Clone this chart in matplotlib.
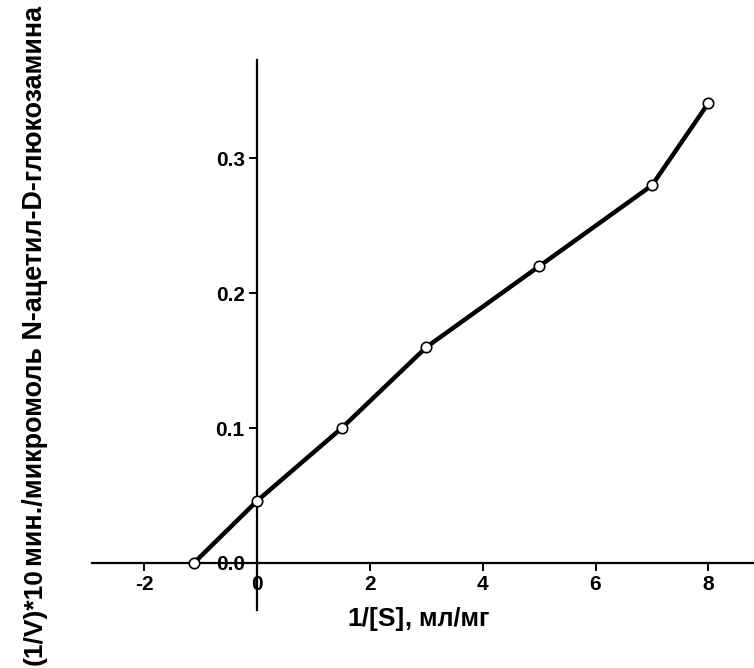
import matplotlib
matplotlib.use('Agg')
import matplotlib.pyplot as plt

# Lineweaver-Burk data
inv_s = [-1.12, 0.0, 1.5, 3.0, 5.0, 7.0, 8.0]
inv_v = [0.0, 0.046, 0.100, 0.160, 0.220, 0.280, 0.341]

x_ticks = [-2, 0, 2, 4, 6, 8]
y_ticks = [0.0, 0.1, 0.2, 0.3]
y_tick_labels = ['0.0', '0.1', '0.2', '0.3']

plt.rcParams['font.family'] = ['Liberation Sans', 'DejaVu Sans']
plt.rcParams['font.weight'] = 'bold'

W, H = 754, 668
fig = plt.figure(figsize=(W / 100, H / 100), dpi=100)
ax = fig.add_axes([92 / W, (H - 610) / H, (W - 92) / W, (610 - 60) / H])

ax.plot(inv_s, inv_v, color='black', lw=3.2, marker='o', ms=7.5,
        mfc='white', mec='black', mew=1.2, zorder=3, clip_on=False)

ax.set_xlim(-2.93, 8.81)
ax.set_ylim(-0.035, 0.373)

ax.spines['left'].set_position(('data', 0))
ax.spines['bottom'].set_position(('data', 0))
ax.spines['top'].set_visible(False)
ax.spines['right'].set_visible(False)
for s in ('left', 'bottom'):
    ax.spines[s].set_linewidth(1.6)

ax.set_xticks(x_ticks)
ax.set_xticklabels([str(t) for t in x_ticks])
ax.set_yticks(y_ticks)
ax.set_yticklabels(y_tick_labels)
ax.tick_params(axis='both', direction='out', length=6, width=1.4,
               labelsize=15, pad=3)
for lab in ax.get_xticklabels() + ax.get_yticklabels():
    lab.set_fontweight('bold')

fig.canvas.draw()
r = fig.canvas.get_renderer()

# x axis title, two sizes on one baseline
t1 = fig.text(347 / W, 42 / H, '1/[S]', fontsize=19, fontweight='bold',
              ha='left', va='baseline')
x_end = t1.get_window_extent(r).x1
fig.text((x_end + 1) / W, 42 / H, ', мл/мг', fontsize=18, fontweight='bold',
         ha='left', va='baseline')

# y axis title
t2 = fig.text(42 / W, 3 / H, '(1/V)*10', fontsize=19, fontweight='bold',
              rotation=90, rotation_mode='anchor', ha='left', va='baseline')
y_end = t2.get_window_extent(r).y1
fig.text(42 / W, (y_end + 2) / H, 'мин./микромоль N-ацетил-D-глюкозамина',
         fontsize=19.4, fontweight='bold',
         rotation=90, rotation_mode='anchor', ha='left', va='baseline')

fig.savefig('out.png', dpi=100)
